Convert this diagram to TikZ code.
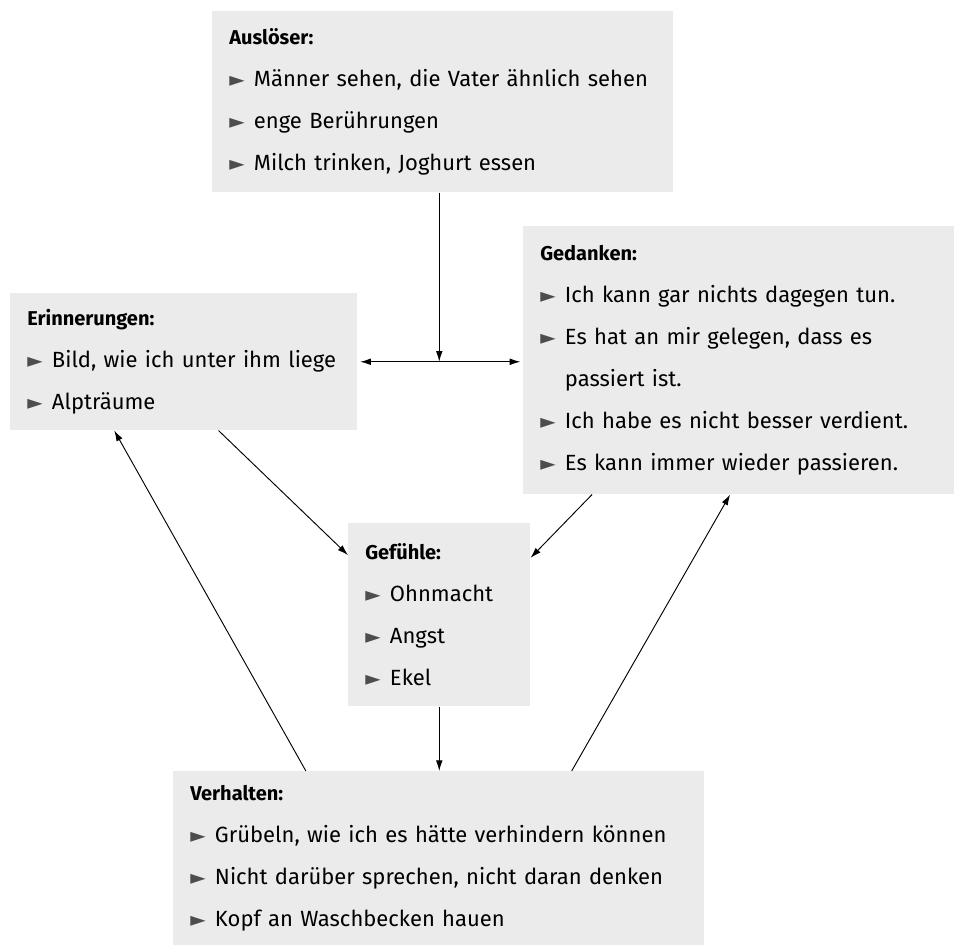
\documentclass[tikz,border=0pt]{standalone}
\usepackage{fontspec}
\setmainfont{Fira Sans}
\newfontfamily\symbfont{DejaVu Sans}
\usetikzlibrary{arrows.meta,calc}

\definecolor{feldgrau}{HTML}{EBEBEB}
\definecolor{punktgrau}{HTML}{4D4D4D}

\newcommand{\kopf}[1]{{\fontsize{15}{31.5}\selectfont\bfseries #1}}
\newcommand{\pkt}{{\symbfont\fontsize{15}{31.5}\selectfont\color{punktgrau}►}\hspace{7pt}}

\tikzset{
  feld/.style={fill=feldgrau, anchor=north west, align=left,
    inner xsep=12.75pt, inner ysep=0pt, font={\fontsize{16.5}{31.5}\selectfont}},
  pfeil/.style={-{Latex[length=8pt,width=5pt]}, line width=0.7pt},
  dpfeil/.style={{Latex[length=8pt,width=5pt]}-{Latex[length=8pt,width=5pt]}, line width=0.7pt}
}

\begin{document}
\begin{tikzpicture}[x=0.75pt,y=-0.75pt]

\useasboundingbox (0,0) rectangle (954,945);


\node [feld, text width=320.25pt, minimum height=135.75pt] (ausl)
 at (212,11) {\kopf{Auslöser:}\\
\pkt Männer sehen, die Vater ähnlich sehen\\
\pkt enge Berührungen\\
\pkt Milch trinken, Joghurt essen};


\node [feld, text width=234.75pt, minimum height=102.75pt] (erin)
 at (10,293) {\kopf{Erinnerungen:}\\
\pkt Bild, wie ich unter ihm liege\\
\pkt Alpträume};


\node [feld, text width=297.75pt, minimum height=201pt] (gedk)
 at (523,226) {\kopf{Gedanken:}\\
\pkt Ich kann gar nichts dagegen tun.\\
\pkt Es hat an mir gelegen, dass es\\
\hphantom{\pkt}passiert ist.\\
\pkt Ich habe es nicht besser verdient.\\
\pkt Es kann immer wieder passieren.};


\node [feld, text width=111pt, minimum height=137.25pt] (gef)
 at (348,523) {\kopf{Gefühle:}\\
\pkt Ohnmacht\\
\pkt Angst\\
\pkt Ekel};


\node [feld, text width=372.75pt, minimum height=130.5pt] (verh)
 at (173,771) {\kopf{Verhalten:}\\
\pkt Grübeln, wie ich es hätte verhindern können\\
\pkt Nicht darüber sprechen, nicht daran denken\\
\pkt Kopf an Waschbecken hauen};


%\draw (ausl) -- (gef);

\coordinate (mitte) at (erin.east -| gef.north);

\draw [pfeil] (ausl.south -| gef.north) -- (mitte);
\draw [dpfeil, shorten <=2pt, shorten >=2pt] (erin.east) -- (erin.east -| gedk.west);

\draw [pfeil] ($(erin.south west)!0.6!(erin.south east)$)
 -- ($(gef.north west)!0.175!(gef.south west)$);
\draw [pfeil] ($(gedk.south west)!0.16!(gedk.south east)$)
 -- ($(gef.north east)!0.19!(gef.south east)$);

\draw [pfeil] (gef.south) -- (gef.south |- verh.north);

\draw [pfeil] ($(verh.north west)!0.25!(verh.north east)$)
 -- ($(erin.south west)!0.3!(erin.south east)$);
\draw [pfeil] ($(verh.north west)!0.75!(verh.north east)$)
 -- ($(gedk.south west)!0.48!(gedk.south east)$);

\end{tikzpicture}
\end{document}
